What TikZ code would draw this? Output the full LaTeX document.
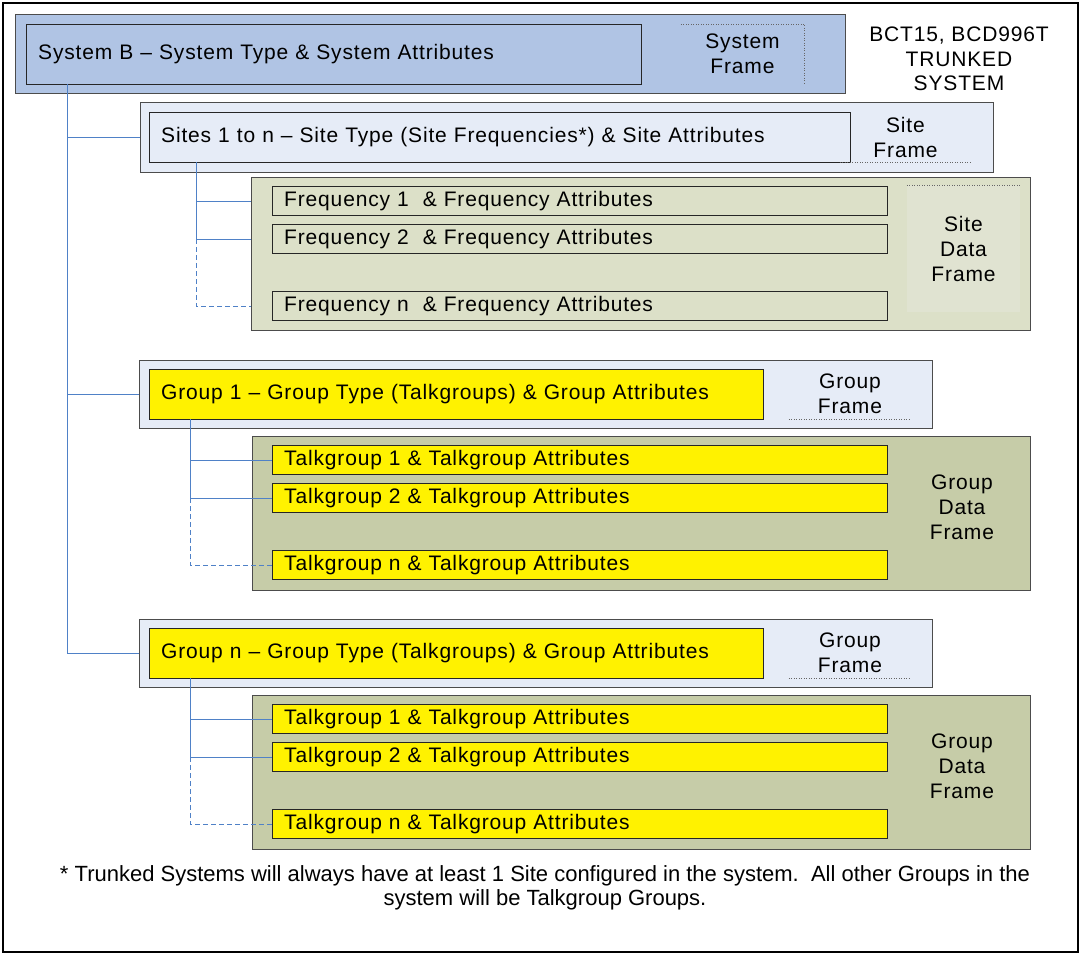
\documentclass[tikz,border=0pt]{standalone}
\usepackage{fontspec}
\setmainfont[LetterSpace=4]{Liberation Sans}
\newfontfamily\notefont{Liberation Sans}
\usetikzlibrary{calc,positioning}
\definecolor{sysblue}{RGB}{176,196,228}
\definecolor{paleblue}{RGB}{230,236,247}
\definecolor{sitedata}{RGB}{220,224,200}
\definecolor{sitecapt}{RGB}{224,227,209}
\definecolor{grpdata}{RGB}{198,204,168}
\definecolor{linkblue}{RGB}{79,129,199}
\tikzset{frame/.style={rectangle,draw=black!70,anchor=north west,inner sep=0pt},
entry/.style={rectangle,draw=black!85,anchor=west,align=left,inner xsep=12pt,
inner ysep=0pt,font=\fontsize{21}{24}\selectfont},
capt/.style={rectangle,align=center,inner sep=0pt,font=\fontsize{21}{25}\selectfont},
dotline/.style={draw=black!60,dotted,line width=0.5pt},
link/.style={draw=linkblue,line width=0.8pt},
linkdash/.style={link,dash pattern=on 5pt off 3pt}}

\begin{document}
\begin{tikzpicture}[x=1pt,y=-1pt]
  \useasboundingbox (0,0) rectangle (1081,955);
  \draw [line width=2pt] (3,3) rectangle (1078,952);

  % system
  \node (sysframe) [frame,fill=sysblue,minimum width=830pt,minimum height=79pt] at (15,14) {};
  \node (sysbox) [entry,fill=sysblue,text width=591pt,minimum height=60pt] at (26,54)
    {System B – System Type \& System Attributes};
  \node (syscapt) [capt,minimum width=123pt,minimum height=60pt] at (742.5,54) {System\\Frame};
  \draw [dotline] (syscapt.north west) -- (syscapt.north east) -- (syscapt.south east);
  \node (trunked) [capt,font=\fontsize{21}{24.5}\selectfont] at (959,59) {BCT15, BCD996T\\TRUNKED\\SYSTEM};

  % sites
  \node (siteframe) [frame,fill=paleblue,minimum width=853pt,minimum height=70pt] at (140,102) {};
  \node (sitebox) [entry,fill=paleblue,text width=677pt,minimum height=50pt] at (149,137)
    {Sites 1 to n – Site Type (Site Frequencies*) \& Site Attributes};
  \node (sitecapt) [capt,minimum width=131pt,minimum height=50pt] at (905.5,137) {Site\\Frame};
  \draw [dotline] (sitecapt.south west) -- (sitecapt.south east);

  \node (freqframe) [frame,fill=sitedata,minimum width=779pt,minimum height=153pt] at (251,177) {};
  \node (freqcapt) [capt,fill=sitecapt,minimum width=113pt,minimum height=127pt] at (963.5,248.5)
    {Site\\Data\\Frame};
  \draw [dotline] (freqcapt.north west) -- (freqcapt.north east);
  \node (freq1) [entry,fill=sitedata,text width=591pt,minimum height=29pt] at (272,201)
    {Frequency 1\ \ \& Frequency Attributes};
  \node (freq2) [entry,fill=sitedata,text width=591pt,minimum height=29pt] at (272,239)
    {Frequency 2\ \ \& Frequency Attributes};
  \node (freqn) [entry,fill=sitedata,text width=591pt,minimum height=29pt] at (272,306)
    {Frequency n\ \ \& Frequency Attributes};

  \coordinate (systrunk) at ($(sysbox.south west)+(41,0)$);
  \coordinate (sitestem) at ($(sitebox.south west)+(47,0)$);
  \draw [link] (sitestem) |- (freq1.west -| freqframe.west);
  \draw [link] (sitestem) |- (freq2.west -| freqframe.west);
  \draw [linkdash] (sitestem |- freq2.west) |- (freqn.west -| freqframe.west);

  % groups
  \foreach \g/\yo in {1/0,n/259} {
    \begin{scope}[yshift=-\yo pt]
      \node (grp\g frame) [frame,fill=paleblue,minimum width=793pt,minimum height=68pt] at (139,360) {};
      \node (grp\g box) [entry,fill=yellow,text width=590pt,minimum height=50pt] at (149,394)
        {Group \g{} – Group Type (Talkgroups) \& Group Attributes};
      \node (grp\g capt) [capt,minimum width=122pt,minimum height=50pt] at (850,394) {Group\\Frame};
      \draw [dotline] (grp\g capt.south west) -- (grp\g capt.south east);

      \node (tg\g frame) [frame,fill=grpdata,minimum width=778pt,minimum height=154pt] at (252,436) {};
      \node (tg\g capt) [capt] at (962,507) {Group\\Data\\Frame};
      \node (tg\g 1) [entry,fill=yellow,text width=591pt,minimum height=29pt] at (272,460)
        {Talkgroup 1 \& Talkgroup Attributes};
      \node (tg\g 2) [entry,fill=yellow,text width=591pt,minimum height=29pt] at (272,498)
        {Talkgroup 2 \& Talkgroup Attributes};
      \node (tg\g n) [entry,fill=yellow,text width=591pt,minimum height=29pt] at (272,565)
        {Talkgroup n \& Talkgroup Attributes};

      \coordinate (grp\g stem) at ($(grp\g box.south west)+(41,0)$);
      \draw [link] (grp\g stem) |- (tg\g 1.west);
      \draw [link] (grp\g stem) |- (tg\g 2.west);
      \draw [linkdash] (grp\g stem |- tg\g 2.west) |- (tg\g n.west);
    \end{scope}
  }

  \draw [link] (systrunk) |- (siteframe.west);
  \draw [link] (systrunk) |- (grp1frame.west);
  \draw [link] (systrunk) |- (grpnframe.west);

  \node (footnote) [capt,font=\notefont\fontsize{22}{24}\selectfont] at (545,888)
    {* Trunked Systems will always have at least 1 Site configured in the system.\ \ All other Groups in the\\
     system will be Talkgroup Groups.};
\end{tikzpicture}
\end{document}
